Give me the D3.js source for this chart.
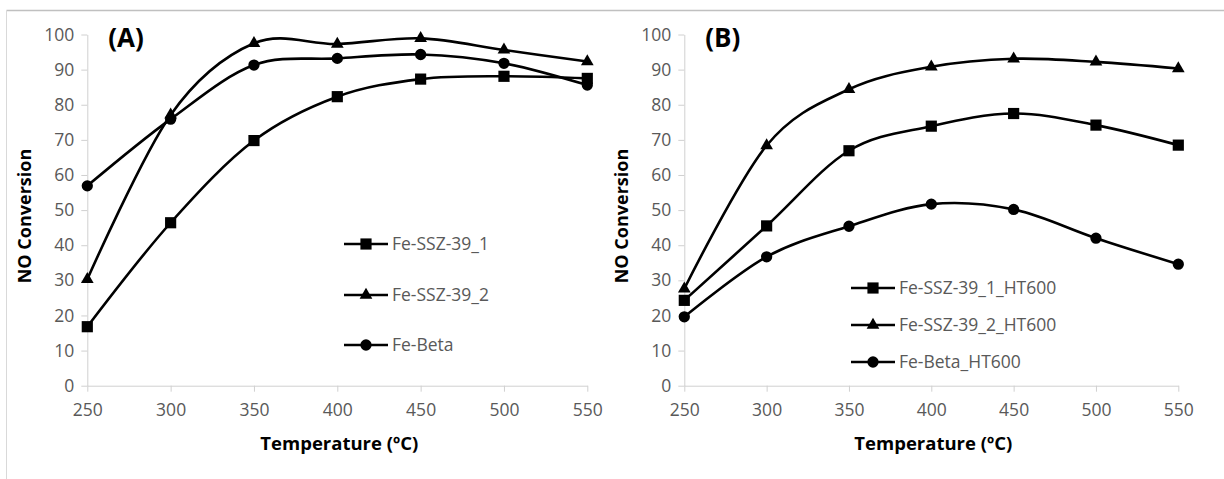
<!DOCTYPE html>
<html>
<head>
<meta charset="utf-8">
<script src="https://cdn.jsdelivr.net/npm/d3@7"></script>
<style>
  body { margin: 0; background: #fff; }
  svg { display: block; }
</style>
</head>
<body>
<div id="my_dataviz"></div>
<script>
// data
var temps = [250, 300, 350, 400, 450, 500, 550];
var yTicks = [0, 10, 20, 30, 40, 50, 60, 70, 80, 90, 100];

// panel A
var namesA = ["Fe-SSZ-39_1", "Fe-SSZ-39_2", "Fe-Beta"];
var ssz1 = [16.8, 46.4, 69.8, 82.3, 87.3, 88.1, 87.5];
var ssz2 = [30.3, 77.1, 97.5, 97.3, 98.9, 95.6, 92.3];
var beta = [56.9, 75.9, 91.3, 93.2, 94.3, 91.8, 85.6];

// panel B
var namesB = ["Fe-SSZ-39_1_HT600", "Fe-SSZ-39_2_HT600", "Fe-Beta_HT600"];
var ssz1HT = [24.3, 45.5, 66.9, 73.9, 77.5, 74.2, 68.5];
var ssz2HT = [27.6, 68.4, 84.4, 90.8, 93.1, 92.2, 90.3];
var betaHT = [19.6, 36.7, 45.4, 51.7, 50.2, 42.0, 34.6];

var width = 1224, height = 479;
var markers = [d3.symbolSquare, d3.symbolTriangle, d3.symbolCircle];
var markerSize = [125, 70, 100];
var textFont = "'Open Sans', sans-serif";

var svg = d3.select("#my_dataviz")
    .append("svg")
    .attr("width", width)
    .attr("height", height);

svg.append("rect").attr("width", width).attr("height", height).attr("fill", "#fff");

// chart area border (only left and top visible)
svg.append("line").attr("x1", 6.5).attr("x2", width).attr("y1", 10.5).attr("y2", 10.5)
    .attr("stroke", "#c0c0c0").attr("stroke-width", 1.5);
svg.append("line").attr("x1", 6.5).attr("x2", 6.5).attr("y1", 10.5).attr("y2", height)
    .attr("stroke", "#d9d9d9").attr("stroke-width", 1);

function drawPanel(p) {
    var x = d3.scaleLinear().domain([250, 550]).range([p.x0, p.x1]);
    var y = d3.scaleLinear().domain([0, 100]).range([385.7, 34.5]);
    var g = svg.append("g");

    // axes
    var xAxis = g.append("g")
        .attr("transform", "translate(0,385.7)")
        .call(d3.axisBottom(x).tickValues(temps).tickSize(6).tickSizeOuter(0).tickPadding(12));
    var yAxis = g.append("g")
        .attr("transform", "translate(" + p.x0 + ",0)")
        .call(d3.axisLeft(y).tickValues(yTicks).tickSize(6).tickSizeOuter(0).tickPadding(7));
    [xAxis, yAxis].forEach(function (a) {
        a.select(".domain").attr("stroke", "#d0d0d0");
        a.selectAll(".tick line").attr("stroke", "#d0d0d0");
        a.selectAll(".tick text")
            .attr("fill", "#595959")
            .style("font-family", textFont)
            .style("font-size", "17.5px");
    });

    // axis titles
    g.append("text")
        .attr("transform", "translate(" + (p.x0 - 63) + ",216) rotate(-90)")
        .attr("text-anchor", "middle")
        .attr("dy", "0.35em")
        .style("font-family", textFont)
        .style("font-weight", "bold")
        .style("font-size", "18px")
        .text("NO Conversion");
    g.append("text")
        .attr("x", (p.x0 + p.x1) / 2 + 2)
        .attr("y", 444)
        .attr("text-anchor", "middle")
        .attr("dy", "0.35em")
        .style("font-family", textFont)
        .style("font-weight", "bold")
        .style("font-size", "18.5px")
        .text("Temperature (ºC)");

    // panel letter
    g.append("text")
        .attr("x", p.x0 + 21)
        .attr("y", 38)
        .attr("dy", "0.35em")
        .style("font-family", textFont)
        .style("font-weight", "bold")
        .style("font-size", "26px")
        .text(p.label);

    // smoothed lines
    var line = d3.line()
        .x(function (d, i) { return x(temps[i]); })
        .y(function (d) { return y(d); })
        .curve(d3.curveCardinal.tension(0));

    p.series.forEach(function (s, k) {
        g.append("path")
            .datum(s)
            .attr("d", line)
            .attr("fill", "none")
            .attr("stroke", "#000")
            .attr("stroke-width", 2.6);
        g.selectAll(null)
            .data(s)
            .enter()
            .append("path")
            .attr("d", d3.symbol().type(markers[k]).size(markerSize[k]))
            .attr("transform", function (d, i) {
                return "translate(" + x(temps[i]) + "," + y(d) + ")";
            })
            .attr("fill", "#000");
    });

    // legend
    p.names.forEach(function (name, k) {
        var ly = p.legY[k];
        var lg = g.append("g").attr("transform", "translate(" + p.legX + "," + ly + ")");
        lg.append("line").attr("x1", 0).attr("x2", 44).attr("y1", 0).attr("y2", 0)
            .attr("stroke", "#000").attr("stroke-width", 2.6);
        lg.append("path")
            .attr("d", d3.symbol().type(markers[k]).size(markerSize[k]))
            .attr("transform", "translate(22,0)")
            .attr("fill", "#000");
        lg.append("text")
            .attr("x", 48)
            .attr("dy", "0.35em")
            .attr("fill", "#595959")
            .style("font-family", textFont)
            .style("font-size", "17.5px")
            .text(name);
    });
}

drawPanel({
    x0: 87.3, x1: 587.3, label: "(A)",
    series: [ssz1, ssz2, beta], names: namesA,
    legX: 344, legY: [244, 295, 345]
});
drawPanel({
    x0: 684.3, x1: 1178.3, label: "(B)",
    series: [ssz1HT, ssz2HT, betaHT], names: namesB,
    legX: 851, legY: [288, 325, 362]
});
</script>
</body>
</html>
